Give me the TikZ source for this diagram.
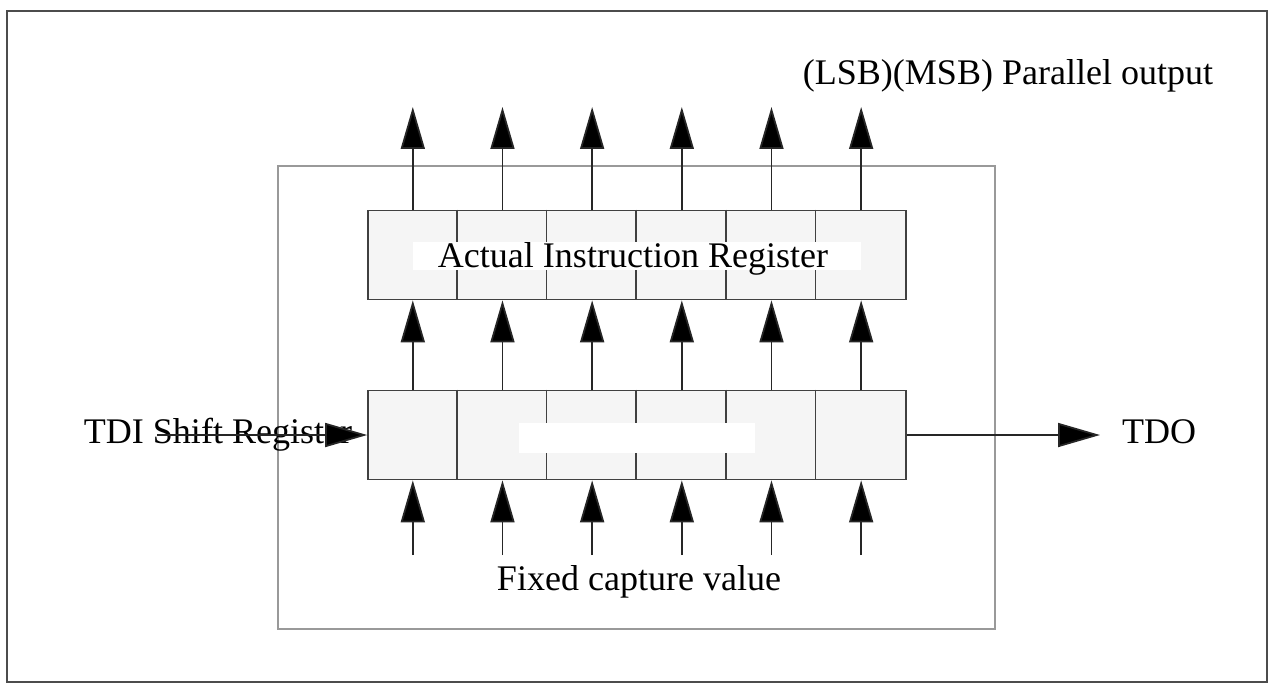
\documentclass[tikz,border=0pt]{standalone}
\usepackage{fontspec}
\setmainfont{Liberation Serif}
\usetikzlibrary{arrows.meta,positioning,calc}

\tikzset{
  regbox/.style={draw=black!75,fill=black!4,line width=1pt,
    minimum width=10.76cm,minimum height=1.78cm,inner sep=0pt},
  sig/.style={draw=black!85,line width=1pt,
    -{Triangle[length=0.84cm,width=0.48cm,fill=black]}},
  lbl/.style={font=\fontsize{20.5}{24}\selectfont,inner sep=0pt,anchor=base},
  blank/.style={fill=white,inner sep=0pt},
}

\begin{document}
\begin{tikzpicture}[x=0.02cm,y=-0.02cm]
\useasboundingbox (0,0) rectangle (1273,684);

% frames
\draw[black!70,line width=1.3pt] (7,11) rectangle (1267,682);
\draw[black!40,line width=1pt] (278,166) rectangle (995,629);

% registers
\node[regbox] (air) at (637,255) {};
\node[regbox] (tsr) at (637,435) {};

\foreach \i in {1,...,5}{
  \draw[black!75,line width=1pt] ($(air.north west)+(\i*89.67,0)$) -- ($(air.south west)+(\i*89.67,0)$);
  \draw[black!75,line width=1pt] ($(tsr.north west)+(\i*89.67,0)$) -- ($(tsr.south west)+(\i*89.67,0)$);
}

\node[blank,minimum width=8.98cm,minimum height=0.56cm] (airblank) at (637,256) {};
\node[lbl] (airtext) at (633,267) {Actual Instruction Register};
\node[blank,minimum width=4.74cm,minimum height=0.6cm] (tsrblank) at (637,438) {};

% columns
\foreach \i in {1,...,6}{
  \coordinate (po\i) at (412.8+\i*89.67-89.67,107);
  \coordinate (fc\i) at (412.8+\i*89.67-89.67,555);
  \draw[sig] (po\i |- air.north) -- (po\i);
  \draw[sig] (po\i |- tsr.north) -- (po\i |- air.south);
  \draw[sig] (fc\i) -- (fc\i |- tsr.south);
}

% serial path
\node[lbl] (tditext) at (218,443) {TDI Shift Register};
\coordinate (tdi) at (157,435);
\draw[sig] (tdi) -- (tsr.west);
\coordinate (tdoend) at (1100,435);
\draw[sig] (tsr.east) -- (tdoend);
\node[lbl] (tdotext) at (1159,443) {TDO};

\node[lbl] (fctext) at (639,590) {Fixed capture value};
\node[lbl] (potext) at (1008,84) {(LSB)(MSB) Parallel output};

\end{tikzpicture}
\end{document}
